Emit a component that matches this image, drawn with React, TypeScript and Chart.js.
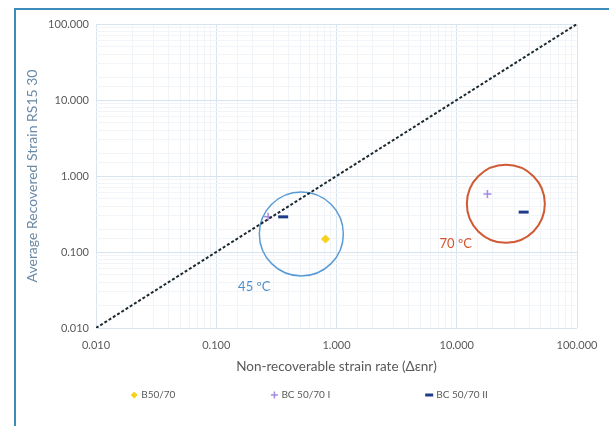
import React, { useEffect, useRef } from 'react';
import { Chart, registerables } from 'chart.js';

Chart.register(...registerables);

// ---- data ----
const axisMin = 0.01;
const axisMax = 100;
const identityLine = [
  { x: 0.01, y: 0.01 },
  { x: 100, y: 100 },
];
const b5070 = [{ x: 0.81, y: 0.148 }];
const bc5070I = [
  { x: 0.27, y: 0.29 },
  { x: 18, y: 0.58 },
];
const bc5070II = [
  { x: 0.36, y: 0.29 },
  { x: 36, y: 0.335 },
];
const groupCenters45 = [{ x: 0.51, y: 0.173 }];
const groupCenters70 = [{ x: 25.6, y: 0.43 }];
const groupLabels = ['45 ºC', '70 ºC'];
const groupLabelAt = [
  { x: 0.207, y: 0.0346 },
  { x: 9.8, y: 0.127 },
];
const seriesNames = ['B50/70', 'BC 50/70 I', 'BC 50/70 II'];
const xTitle = 'Non-recoverable strain rate (Δεnr)';
const yTitle = 'Average Recovered Strain RS15 30';

const FONT = 'Lato, "Open Sans", "DejaVu Sans", sans-serif';
const isDecade = (v: number) => Math.abs(Math.log10(v) - Math.round(Math.log10(v))) < 1e-9;

const seriesStyles = [
  { pointStyle: 'rectRot', color: '#f7d21c', radius: 4, width: 1 },
  { pointStyle: 'cross', color: '#a48be0', radius: 4, width: 1.5 },
  { pointStyle: 'line', color: '#1f3c8c', radius: 5, width: 3 },
];

const annotationPlugin = {
  id: 'groupLabels',
  afterDatasetsDraw(chart: any) {
    const { ctx, scales } = chart;
    const colors = ['#4f8fc9', '#d4532b'];
    ctx.save();
    ctx.font = `13px ${FONT}`;
    ctx.textAlign = 'center';
    ctx.textBaseline = 'middle';
    groupLabels.forEach((t, i) => {
      ctx.fillStyle = colors[i];
      ctx.fillText(t, scales.x.getPixelForValue(groupLabelAt[i].x), scales.y.getPixelForValue(groupLabelAt[i].y));
    });
    ctx.restore();
  },
};

const legendPlugin = {
  id: 'customLegend',
  afterDraw(chart: any) {
    const { ctx } = chart;
    ctx.save();
    ctx.font = `10px ${FONT}`;
    ctx.textBaseline = 'middle';
    ctx.textAlign = 'left';
    const gap = 95;
    const markerW = 8;
    const widths = seriesNames.map((n) => markerW + 3 + ctx.measureText(n).width);
    const total = widths.reduce((a, b) => a + b, 0) + gap * (widths.length - 1);
    let x = 309 - total / 2;
    const y = 395;
    seriesNames.forEach((n, i) => {
      const s = seriesStyles[i];
      const cx = x + markerW / 2;
      ctx.strokeStyle = s.color;
      ctx.fillStyle = s.color;
      ctx.lineWidth = s.width;
      if (s.pointStyle === 'rectRot') {
        ctx.beginPath();
        ctx.moveTo(cx, y - 3.5);
        ctx.lineTo(cx + 3.5, y);
        ctx.lineTo(cx, y + 3.5);
        ctx.lineTo(cx - 3.5, y);
        ctx.closePath();
        ctx.fill();
      } else if (s.pointStyle === 'cross') {
        ctx.beginPath();
        ctx.moveTo(cx - 3.5, y);
        ctx.lineTo(cx + 3.5, y);
        ctx.moveTo(cx, y - 3.5);
        ctx.lineTo(cx, y + 3.5);
        ctx.stroke();
      } else {
        ctx.beginPath();
        ctx.moveTo(cx - 4, y);
        ctx.lineTo(cx + 4, y);
        ctx.stroke();
      }
      ctx.fillStyle = '#595959';
      ctx.fillText(n, x + markerW + 3, y);
      x += widths[i] + gap;
    });
    ctx.restore();
  },
};

export default function App() {
  const ref = useRef<HTMLCanvasElement>(null);
  useEffect(() => {
    if (!ref.current) return;
    const mkSeries = (label: string, data: any[], i: number) => ({
      label,
      data,
      pointStyle: seriesStyles[i].pointStyle,
      pointRadius: seriesStyles[i].radius,
      pointBorderWidth: seriesStyles[i].width,
      borderColor: seriesStyles[i].color,
      backgroundColor: seriesStyles[i].color,
      showLine: false,
    });
    const tickCb = (v: any) => (isDecade(Number(v)) ? Number(v).toFixed(3) : '');
    const gridColor = (c: any) => (c.tick && isDecade(c.tick.value) ? '#d9e5ee' : '#f1f5f9');
    const chart = new Chart(ref.current, {
      type: 'scatter',
      data: {
        datasets: [
          mkSeries(seriesNames[0], b5070, 0),
          mkSeries(seriesNames[2], bc5070II, 2),
          {
            label: 'y = x',
            data: identityLine,
            showLine: true,
            borderColor: '#1c2a30',
            borderWidth: 2,
            borderDash: [3, 2],
            pointRadius: 0,
          },
          mkSeries(seriesNames[1], bc5070I, 1),
          {
            label: '45',
            data: groupCenters45,
            pointRadius: 42,
            pointBorderWidth: 1.5,
            borderColor: '#5b9bd5',
            backgroundColor: 'rgba(0,0,0,0)',
            showLine: false,
          },
          {
            label: '70',
            data: groupCenters70,
            pointRadius: 39,
            pointBorderWidth: 2,
            borderColor: '#cf5a34',
            backgroundColor: 'rgba(0,0,0,0)',
            showLine: false,
          },
        ] as any,
      },
      options: {
        responsive: false,
        animation: false,
        layout: { autoPadding: false, padding: { left: 0, right: 32, top: 24, bottom: 48 } },
        plugins: { legend: { display: false }, tooltip: { enabled: false } },
        scales: {
          x: {
            type: 'logarithmic',
            min: axisMin,
            max: axisMax,
            afterFit: (s: any) => {
              s.height = 50;
            },
            grid: { color: gridColor, drawTicks: false },
            border: { display: false },
            ticks: {
              autoSkip: false,
              maxRotation: 0,
              padding: 11,
              color: '#595959',
              font: { family: FONT, size: 11 },
              callback: tickCb,
            },
            title: {
              display: true,
              text: xTitle,
              color: '#595959',
              font: { family: FONT, size: 13.5 },
              padding: { top: 0, bottom: 3 },
            },
          },
          y: {
            type: 'logarithmic',
            min: axisMin,
            max: axisMax,
            afterFit: (s: any) => {
              s.width = 96;
            },
            grid: { color: gridColor, drawTicks: false },
            border: { display: false },
            ticks: {
              autoSkip: false,
              padding: 7,
              color: '#595959',
              font: { family: FONT, size: 11 },
              callback: tickCb,
            },
            title: {
              display: true,
              text: yTitle,
              color: '#6a89a6',
              font: { family: FONT, size: 14 },
              padding: { top: 24, bottom: 0 },
            },
          },
        },
      },
      plugins: [annotationPlugin, legendPlugin],
    });
    return () => chart.destroy();
  }, []);
  return (
    <div style={{ position: 'fixed', left: 0, top: 0, width: 609, height: 426, background: '#fff' }}>
      <div
        style={{
          position: 'absolute',
          left: 14,
          top: 8,
          width: 609,
          height: 426,
          borderLeft: '2px solid #3d8bb9',
          borderTop: '2px solid #3d8bb9',
        }}
      />
      <canvas ref={ref} width={609} height={426} style={{ position: 'absolute', left: 0, top: 0 }} />
    </div>
  );
}
